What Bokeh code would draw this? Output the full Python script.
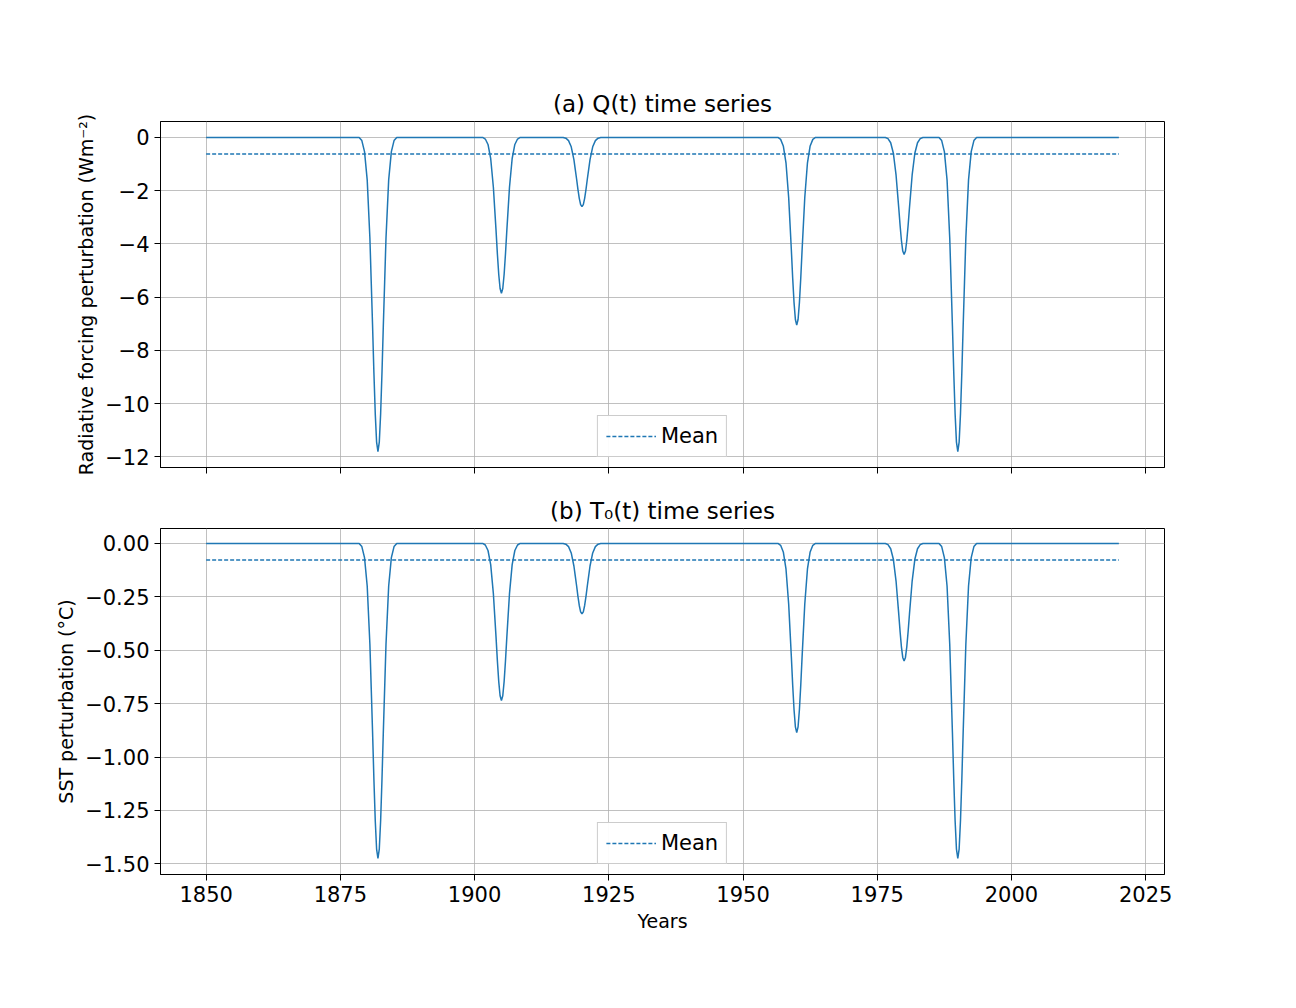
from bokeh.plotting import figure
from bokeh.layouts import column
from bokeh.models import Range1d, Legend, LegendItem, CustomJSTickFormatter, FixedTicker
from bokeh.embed import file_html
from bokeh.resources import INLINE

# values
start_year, end_year = 1850, 2020
event_years = [1882, 1905, 1920, 1960, 1980, 1990]
q_depths = [-11.8, -5.85, -2.6, -7.05, -4.4, -11.8]
t_depths = [-1.475, -0.735, -0.33, -0.885, -0.55, -1.475]
q_mean = -0.62
t_mean = -0.078
# shape of one dip (offset in years, fraction of depth)
dip_offsets = [-3.5, -3.0, -2.5, -2.0, -1.5, -1.25, -1.0, -0.75, -0.5, -0.25, 0.0,
               0.25, 0.5, 0.75, 1.0, 1.25, 1.5, 2.0, 2.5, 3.0, 3.5]
dip_fraction = [0.0, 0.01, 0.045, 0.135, 0.32, 0.46, 0.6, 0.75, 0.88, 0.97, 1.0,
                0.97, 0.88, 0.75, 0.6, 0.46, 0.32, 0.135, 0.045, 0.01, 0.0]

BLUE = "#1f77b4"
FONT = "DejaVu Sans"


def series(depths):
    xs, ys = [start_year], [0.0]
    for yr, d in zip(event_years, depths):
        for off, f in zip(dip_offsets, dip_fraction):
            xs.append(yr + off)
            ys.append(d * f)
    xs.append(end_year)
    ys.append(0.0)
    return xs, ys


minus = CustomJSTickFormatter(code="return tick.toString().replace('-', '\u2212');")
minus2 = CustomJSTickFormatter(code="return tick.toFixed(2).replace('-', '\u2212');")

x_range = Range1d(1841.5, 2028.5)


def panel(title, ylabel, depths, mean, yr, yticks, fmt, height, btop, bbot, show_x):
    p = figure(width=1280, height=height, x_range=x_range, y_range=Range1d(*yr),
               output_backend="svg", toolbar_location=None, title=title,
               min_border_left=160, min_border_right=116,
               min_border_top=btop, min_border_bottom=bbot)
    p.title.align = "center"
    p.title.text_font = FONT
    p.title.text_font_size = "23px"
    p.title.text_font_style = "normal"
    p.title.text_color = "black"
    xs, ys = series(depths)
    p.line(xs, ys, color=BLUE, line_width=1.5)
    r = p.line([start_year, end_year], [mean, mean], color=BLUE, line_width=1.5, line_dash="4 2")
    leg = Legend(items=[LegendItem(label="Mean", renderers=[r])], location="bottom_center",
                 label_text_font=FONT, label_text_font_size="21px", label_text_color="black",
                 border_line_color="#cccccc", border_line_alpha=1, glyph_width=50,
                 padding=8, margin=10, spacing=0)
    p.add_layout(leg)
    for ax in (p.xaxis, p.yaxis):
        ax.major_label_text_font = FONT
        ax.major_label_text_font_size = "21px"
        ax.major_label_text_color = "black"
        ax.axis_label_text_font = FONT
        ax.axis_label_text_font_size = "19px"
        ax.axis_label_text_font_style = "normal"
        ax.axis_label_text_color = "black"
        ax.minor_tick_line_color = None
        ax.major_tick_out = 6
        ax.major_tick_in = 0
        ax.major_tick_line_color = "black"
        ax.axis_line_color = "black"
    p.xaxis.ticker = FixedTicker(ticks=[1850, 1875, 1900, 1925, 1950, 1975, 2000, 2025])
    p.yaxis.ticker = FixedTicker(ticks=yticks)
    p.yaxis.formatter = fmt
    p.yaxis.axis_label = ylabel
    if show_x:
        p.xaxis.axis_label = "Years"
    else:
        p.xaxis.major_label_text_font_size = "0px"
    p.grid.grid_line_color = "#b0b0b0"
    p.grid.grid_line_width = 0.8
    p.outline_line_color = "black"
    return p


p1 = panel("(a) Q(t) time series", "Radiative forcing perturbation (Wm\u207b\u00b2)",
           q_depths, q_mean, (-12.4, 0.6), [0, -2, -4, -6, -8, -10, -12], minus,
           489, 121, 22, False)
p2 = panel("(b) T\u2080(t) time series", "SST perturbation (\u00b0C)",
           t_depths, t_mean, (-1.55, 0.07), [0.0, -0.25, -0.5, -0.75, -1.0, -1.25, -1.5], minus2,
           503, 39, 118, True)

p = column(p1, p2)
open("out.html", "w").write(file_html(p, INLINE))
